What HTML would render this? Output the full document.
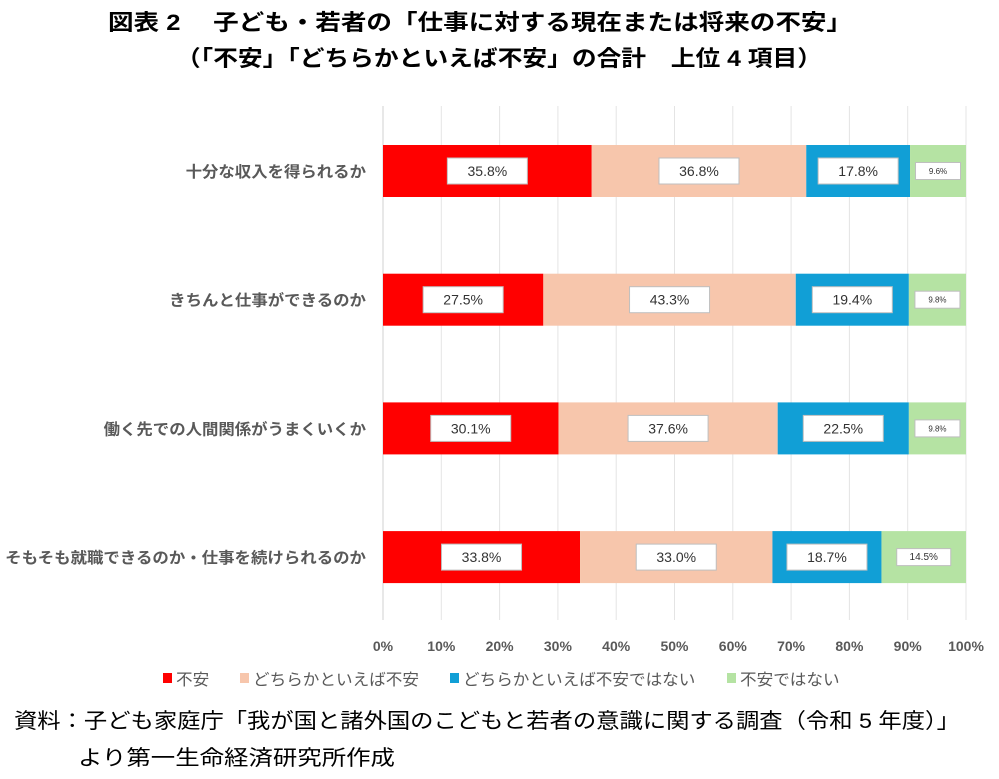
<!DOCTYPE html>
<html><head><meta charset="utf-8"><style>
body{margin:0;width:999px;height:779px;background:#fff;overflow:hidden;font-family:"Liberation Sans","Noto Sans CJK JP",sans-serif;}
</style></head><body>
<svg id="chart" width="999" height="779" style="position:absolute;left:0;top:0">
<text x="108" y="30" font-size="22" font-weight="bold" fill="#000" font-family="Liberation Sans, Noto Sans CJK JP, sans-serif" textLength="744" lengthAdjust="spacingAndGlyphs">図表 2　 子ども・若者の「仕事に対する現在または将来の不安」</text>
<text x="176" y="66" font-size="22" font-weight="bold" fill="#000" font-family="Liberation Sans, Noto Sans CJK JP, sans-serif" textLength="646" lengthAdjust="spacingAndGlyphs">（「不安」「どちらかといえば不安」の合計　上位 4 項目）</text>
<text x="14" y="728" font-size="21" fill="#000" font-family="Liberation Sans, Noto Sans CJK JP, sans-serif" textLength="946" lengthAdjust="spacingAndGlyphs">資料：子ども家庭庁「我が国と諸外国のこどもと若者の意識に関する調査（令和 5 年度）」</text>
<text x="78" y="765" font-size="21" fill="#000" font-family="Liberation Sans, Noto Sans CJK JP, sans-serif" textLength="317" lengthAdjust="spacingAndGlyphs">より第一生命経済研究所作成</text>
</svg>
<script>
const categories=["十分な収入を得られるか","きちんと仕事ができるのか","働く先での人間関係がうまくいくか","そもそも就職できるのか・仕事を続けられるのか"];
const seriesNames=["不安","どちらかといえば不安","どちらかといえば不安ではない","不安ではない"];
const anxious=[35.8,27.5,30.1,33.8];
const somewhatAnxious=[36.8,43.3,37.6,33.0];
const somewhatNot=[17.8,19.4,22.5,18.7];
const notAnxious=[9.6,9.8,9.8,14.5];
const ticks=[0,10,20,30,40,50,60,70,80,90,100];
const colors=["#ff0000","#f7c6ac","#119fd6","#b5e3a3"];
const series=[anxious,somewhatAnxious,somewhatNot,notAnxious];
const svg=document.getElementById('chart');
const NS="http://www.w3.org/2000/svg";
const x0=383,x1=966;
const xs=v=>x0+(x1-x0)*v/100;
const yc=i=>171+i*128.7;
const bh=52;
function mk(tag,attrs){const e=document.createElementNS(NS,tag);for(const k in attrs)e.setAttribute(k,attrs[k]);svg.appendChild(e);return e;}
ticks.forEach((t,i)=>{
  const g=mk('line',{x1:xs(t),x2:xs(t),y1:106,y2:620,stroke:t===0?'#d0d0d0':'#e4e4e4','stroke-width':1});
  
  
  const tx=mk('text',{x:xs(t),y:651,'text-anchor':'middle','font-size':14,'font-weight':'bold',fill:'#595959','font-family':'Liberation Sans, sans-serif'});
  tx.textContent=t+'%';
  
  
});
categories.forEach((c,i)=>{
  const len=c.length*16.4;
  const tx=mk('text',{x:366-len,y:yc(i)+6,'font-size':15.5,'font-weight':'bold',fill:'#595959','font-family':'Noto Sans CJK JP, sans-serif',textLength:len,lengthAdjust:'spacingAndGlyphs'});
  tx.textContent=c;
  
  
  let acc=0;
  series.forEach((s,k)=>{
    const v=s[i];
    const r=mk('rect',{x:xs(acc),y:yc(i)-bh/2,width:xs(acc+v)-xs(acc),height:bh,fill:colors[k]});
    
    
    const cx=(xs(acc)+xs(acc+v))/2;
    const small=k===3;
    const w=small?(v>12?54:45):80, h=small?17:26;
    const b=mk('rect',{x:cx-w/2,y:yc(i)-h/2,width:w,height:h,fill:'#fff',stroke:'#bfbfbf','stroke-width':1});
    
    
    const lt=mk('text',{x:cx,y:yc(i)+(small?3:5),'text-anchor':'middle','font-size':small?(v>12?10:8):14,fill:'#333','font-family':'Liberation Sans, sans-serif'});
    lt.textContent=v.toFixed(1)+'%';
    
    
    acc+=v;
  });
});
const lx=[163,240,450,727];
seriesNames.forEach((n,k)=>{
  const r=mk('rect',{x:lx[k],y:673,width:9,height:10,fill:colors[k]});
  
  
  const t=mk('text',{x:lx[k]+13,y:685,'font-size':16,fill:'#595959','font-family':'Noto Sans CJK JP, sans-serif',textLength:n.length*16.6,lengthAdjust:'spacingAndGlyphs'});
  t.textContent=n;
  
  
});
</script>
</body></html>
